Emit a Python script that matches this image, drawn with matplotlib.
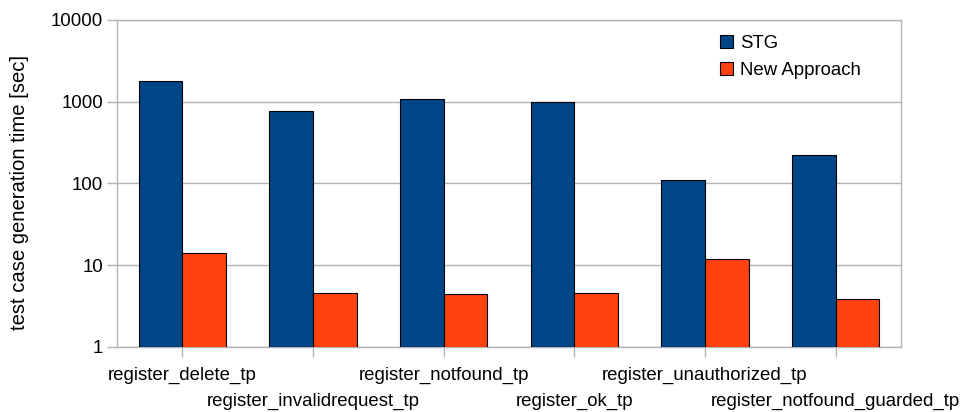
import numpy as np
import matplotlib
matplotlib.use("Agg")
import matplotlib.pyplot as plt
from matplotlib.ticker import FixedLocator, NullLocator
from matplotlib.transforms import offset_copy

plt.rcParams['font.family'] = ['Liberation Sans', 'DejaVu Sans']

categories = [
    "register_delete_tp",
    "register_invalidrequest_tp",
    "register_notfound_tp",
    "register_ok_tp",
    "register_unauthorized_tp",
    "register_notfound_guarded_tp",
]
stg = [1800, 770, 1080, 985, 110, 221]
new_approach = [14.2, 4.6, 4.4, 4.55, 11.8, 3.9]
series_names = ["STG", "New Approach"]
y_ticks = [1, 10, 100, 1000, 10000]
y_label = "test case generation time [sec]"

FS = 13.4

fig = plt.figure(figsize=(9.63, 4.12), dpi=100)
ax = fig.add_axes([0.1215, 0.158, 0.8141, 0.7935])

x = np.arange(len(categories))
w = 1 / 3
ax.bar(x - w / 2, stg, width=w, color="#004586", edgecolor="black",
       linewidth=0.8, label=series_names[0], zorder=3)
ax.bar(x + w / 2, new_approach, width=w, color="#ff420e", edgecolor="black",
       linewidth=0.8, label=series_names[1], zorder=3)

ax.set_yscale("log")
ax.set_ylim(1, 10000)
ax.set_xlim(-0.5, len(categories) - 0.5)
ax.yaxis.set_major_locator(FixedLocator(y_ticks))
ax.yaxis.set_minor_locator(NullLocator())
ax.set_yticklabels([str(v) for v in y_ticks], fontsize=FS)
ax.yaxis.grid(True, color="#b3b3b3", linewidth=1.0, zorder=0)

# category names, staggered over two rows
ax.set_xticks(x)
ax.set_xticklabels([])
base = ax.get_xaxis_transform()
for i, name in enumerate(categories):
    dy = -29 if i % 2 == 0 else -55
    tr = offset_copy(base, fig=fig, x=0, y=dy, units="dots")
    ax.text(i, 0, name, transform=tr, ha="center", va="center", fontsize=FS)

for s in ax.spines.values():
    s.set_color("#b3b3b3")
    s.set_linewidth(1.0)
ax.tick_params(axis="both", which="major", color="#b3b3b3", length=7, width=1.0)
ax.tick_params(axis="y", pad=3)

ax.set_ylabel(y_label, fontsize=14.6)
ax.yaxis.set_label_coords(-0.112, 0.474)

ax.legend(loc="upper left", bbox_to_anchor=(0.769, 0.955), frameon=False,
          fontsize=FS, handlelength=0.7, handleheight=0.7,
          handletextpad=0.4, labelspacing=0.55, borderpad=0, borderaxespad=0)

fig.savefig("out.png", dpi=100)
